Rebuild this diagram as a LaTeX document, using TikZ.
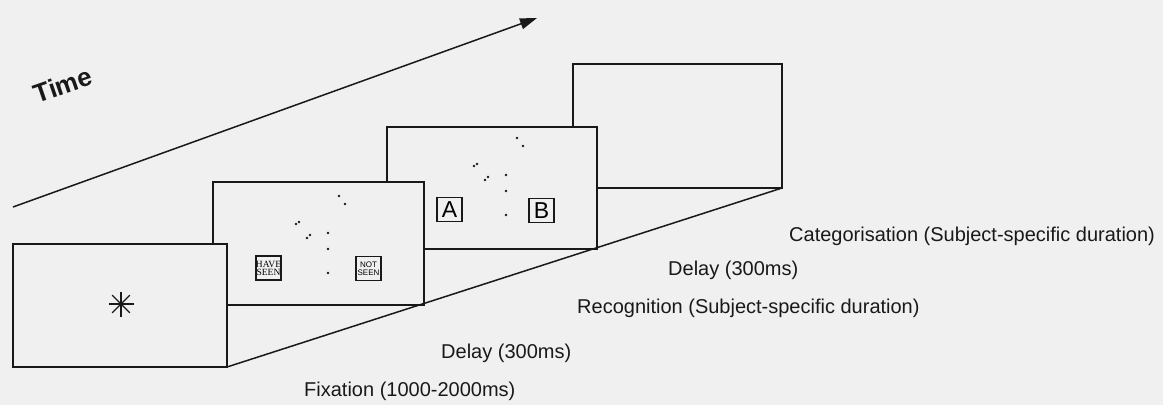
\documentclass[tikz,border=0pt]{standalone}
\usepackage{fontspec}
\setmainfont{Liberation Sans}
\newfontfamily\serifbox{Liberation Serif}
\usetikzlibrary{arrows.meta}
\definecolor{paper}{RGB}{240,240,240}
\definecolor{ink}{RGB}{25,25,25}
\tikzset{
  screen/.style={draw=ink, fill=paper, line width=1.5pt, inner sep=0pt, outer sep=0pt},
  keybox/.style={draw=ink, fill=paper, line width=1.3pt, inner sep=0pt, outer sep=0pt,
                 minimum width=25pt, minimum height=24pt, align=center},
  phase/.style={anchor=west, inner sep=0pt, font=\fontsize{20}{22}\selectfont, text=ink},
  dotmark/.style={fill=ink},
}
% scatter of points shown on the response screens
\newcommand{\pointcloud}[1]{%
  \begin{scope}[shift={#1}]
    \foreach \dx/\dy in {0/0, 6/8, -40/26, -43/28, -29/39, -32/42, -11/37, -11/53, -11/77}
      \fill[dotmark] (\dx,\dy) circle (1.4pt);
  \end{scope}}
\begin{document}
\begin{tikzpicture}[x=1pt, y=-1pt]
  \useasboundingbox[fill=paper] (0,0) rectangle (1163,405);

  % time axis
  \coordinate (t0) at (13,207);
  \coordinate (t1) at (537,18);
  \draw[ink, line width=1.5pt, -{Triangle[length=17pt,width=11pt]}] (t0) -- (t1);
  \node[rotate=19, font=\bfseries\fontsize{26}{28}\selectfont, text=ink] (time) at (63,85) {Time};

  % screens, back to front
  \node[screen, minimum width=209pt, minimum height=124pt] (blank) at (677.5,126) {};

  \node[screen, minimum width=210pt, minimum height=122pt] (categ) at (492,188) {};
  \pointcloud{(517,138)}
  \node[keybox, font=\fontsize{23}{23}\selectfont] (boxA) at (449.5,209.5) {A};
  \node[keybox, font=\fontsize{23}{23}\selectfont] (boxB) at (541.5,210.5) {B};

  \node[screen, minimum width=211pt, minimum height=123pt] (recog) at (318.5,243.5) {};
  \pointcloud{(339,196)}
  \node[keybox, font=\serifbox\fontsize{9.5}{8}\selectfont] (have) at (268.5,268) {HAVE\\SEEN};
  \node[keybox, font=\fontsize{8}{8.5}\selectfont] (notseen) at (368.5,268.5) {NOT\\SEEN};

  \node[screen, minimum width=214pt, minimum height=123pt] (fix) at (120,305.5) {};
  \coordinate (star) at (121,304);
  \foreach \a in {0,45,90,135}
    \draw[ink, line width=1.2pt] ([shift={(\a:12.5)}]star) -- ([shift={(\a+180:12.5)}]star);

  % floor line through the lower right corners
  \draw[ink, line width=1.5pt] (fix.south east) -- (blank.south east);

  % phase labels
  \node[phase] (lcat) at (789,236) {Categorisation (Subject-specific duration)};
  \node[phase] (ldel2) at (668,270) {Delay (300ms)};
  \node[phase] (lrec) at (577,308) {Recognition (Subject-specific duration)};
  \node[phase] (ldel1) at (441,353) {Delay (300ms)};
  \node[phase] (lfix) at (304,391) {Fixation (1000-2000ms)};
\end{tikzpicture}
\end{document}
